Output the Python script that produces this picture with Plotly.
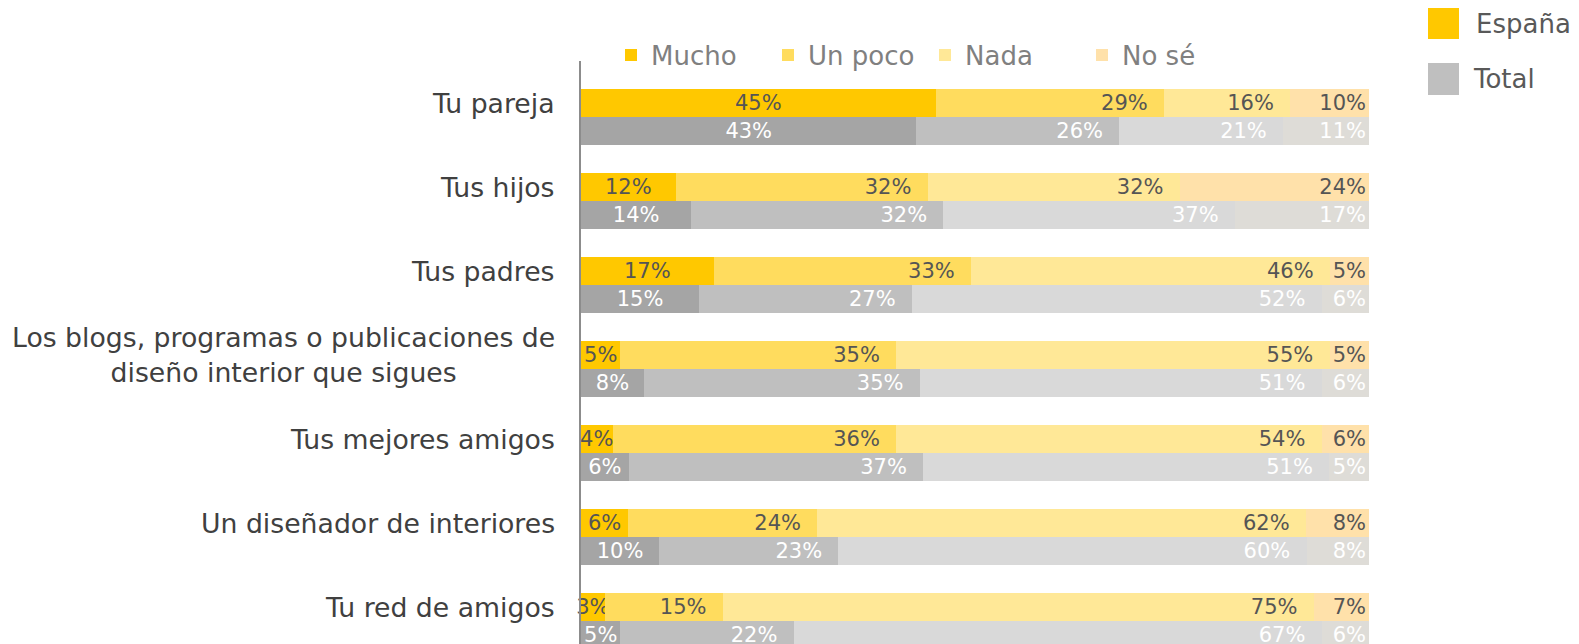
import plotly.graph_objects as go

categories = [
    "Tu pareja",
    "Tus hijos",
    "Tus padres",
    "Los blogs, programas o publicaciones de<br>diseño interior que sigues",
    "Tus mejores amigos",
    "Un diseñador de interiores",
    "Tu red de amigos",
]
responses = ["Mucho", "Un poco", "Nada", "No sé"]

espana_mucho = [45, 12, 17, 5, 4, 6, 3]
espana_un_poco = [29, 32, 33, 35, 36, 24, 15]
espana_nada = [16, 32, 46, 55, 54, 62, 75]
espana_no_se = [10, 24, 5, 5, 6, 8, 7]

total_mucho = [43, 14, 15, 8, 6, 10, 5]
total_un_poco = [26, 32, 27, 35, 37, 23, 22]
total_nada = [21, 37, 52, 51, 51, 60, 67]
total_no_se = [11, 17, 6, 6, 5, 8, 6]

espana_colors = ["#FFC800", "#FFDC5E", "#FFE897", "#FFE1AA"]
total_colors = ["#A5A5A5", "#BFBFBF", "#D9D9D9", "#DEDCD7"]

FONT = "DejaVu Sans"
BAR_W = 0.333
pos_esp = [i - BAR_W / 2 for i in range(len(categories))]
pos_tot = [i + BAR_W / 2 for i in range(len(categories))]

espana_series = [espana_mucho, espana_un_poco, espana_nada, espana_no_se]
total_series = [total_mucho, total_un_poco, total_nada, total_no_se]

# text placement per response column (Mucho centred, others at the segment end)
anchors = ["middle", "end", "end", "end"]
templates = ["%{text}", "%{text}\u00a0\u00a0", "%{text}\u00a0\u00a0", "%{text}"]

fig = go.Figure()
for k, (name, vals, col) in enumerate(zip(responses, espana_series, espana_colors)):
    fig.add_trace(go.Bar(
        name=name, orientation="h", x=vals, y=pos_esp, width=BAR_W,
        marker=dict(color=col, line=dict(width=0)),
        text=[f"{v}%" for v in vals], texttemplate=templates[k],
        textposition="inside", insidetextanchor=anchors[k], textangle=0,
        textfont=dict(family=FONT, size=21, color="#555555"),
        legend="legend", hoverinfo="skip", cliponaxis=False,
    ))
for k, (name, vals, col) in enumerate(zip(responses, total_series, total_colors)):
    fig.add_trace(go.Bar(
        name=name, orientation="h", x=vals, y=pos_tot, width=BAR_W,
        marker=dict(color=col, line=dict(width=0)),
        text=[f"{v}%" for v in vals], texttemplate=templates[k],
        textposition="inside", insidetextanchor=anchors[k], textangle=0,
        textfont=dict(family=FONT, size=21, color="#FFFFFF"),
        showlegend=False, hoverinfo="skip", cliponaxis=False,
    ))

annotations = []
for cat, yp in zip(categories, pos_esp):
    annotations.append(dict(
        x=0, xref="paper", y=yp, yref="y", xanchor="right", yanchor="middle",
        xshift=-24, text=cat, showarrow=False, align="center",
        font=dict(family=FONT, size=26.7, color="#404040"),
    ))

# page has an 8px body margin: figure coordinates = page coordinates - 8
OFF = 8
W, H = 1579 - OFF, 644 - OFF
PL, PW, PT = 581 - OFF, 788, 61 - OFF
PH = H - PT

def px_x(p):
    return (p - OFF - PL) / PW
def px_y(p):
    return (H - (p - OFF)) / PH

key = [("España", espana_colors[0], 8, 39, 1474), ("Total", "#BFBFBF", 63, 95, 1471)]
shapes = []
for label, col, top, bot, tx in key:
    shapes.append(dict(type="rect", xref="paper", yref="paper",
                       x0=px_x(1428), x1=px_x(1459), y0=px_y(bot), y1=px_y(top),
                       fillcolor=col, line=dict(width=0)))
    annotations.append(dict(x=px_x(tx), xref="paper", y=px_y((top + bot) / 2), yref="paper",
                            xanchor="left", yanchor="middle", text=label, showarrow=False,
                            font=dict(family=FONT, size=26, color="#595959")))

fig.update_layout(
    width=W, height=H,
    margin=dict(l=PL, r=W - PL - PW, t=PT, b=0, autoexpand=False),
    paper_bgcolor="white", plot_bgcolor="white",
    barmode="stack", barnorm="percent",
    uniformtext=dict(minsize=21, mode="show"),
    xaxis=dict(range=[0, 100.001], visible=False, fixedrange=True),
    yaxis=dict(range=[6.274, -0.667], showticklabels=False, showgrid=False,
               zeroline=False, showline=True, linecolor="#8C8C8C", linewidth=2,
               ticks=""),
    legend=dict(orientation="h", xref="container", yref="container",
                x=603 / W, y=1 - 47 / H, xanchor="left", yanchor="middle",
                traceorder="normal",
                font=dict(family=FONT, size=26, color="#808080"),
                entrywidth=112, bgcolor="rgba(0,0,0,0)"),
    annotations=annotations, shapes=shapes,
    showlegend=True,
)

fig.write_html("out.html")
